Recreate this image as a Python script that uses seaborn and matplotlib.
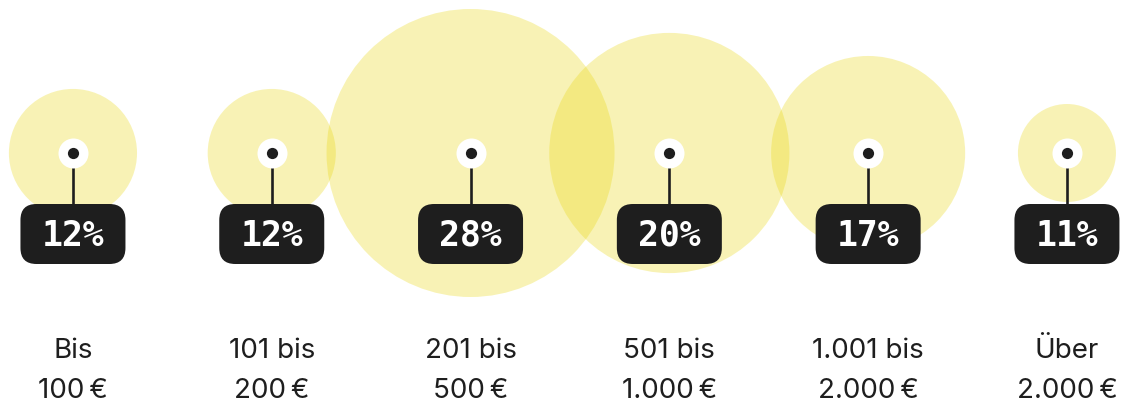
import matplotlib
matplotlib.use("Agg")
import matplotlib.pyplot as plt
import matplotlib.transforms as mtransforms
from matplotlib.patches import FancyBboxPatch
import seaborn as sns
import pandas as pd

# ---- data ----
brackets = ["Bis\n100\u2009€", "101 bis\n200\u2009€", "201 bis\n500\u2009€",
            "501 bis\n1.000\u2009€", "1.001 bis\n2.000\u2009€", "Über\n2.000\u2009€"]
shares = [12, 12, 28, 20, 17, 11]                 # percent labels
bubble_weight = [41, 41, 207, 144, 94, 24]        # relative bubble area

df = pd.DataFrame({"pos": range(len(brackets)), "row": 0,
                   "weight": bubble_weight, "share": shares})

DPI = 100
W, H = 1123, 409
sns.set_theme(style="white")
plt.rcParams["font.family"] = ["Inter", "DejaVu Sans"]

fig = plt.figure(figsize=(W / DPI, H / DPI), dpi=DPI)
ax = fig.add_axes([0, 0, 1, 1])
ax.set_xlim(-0.367, 5.282)
ax.set_ylim(256, -153)   # y in pixel units, 0 = bubble row
ax.axis("off")

ink = "#1e1e1e"

def pts2(r_px):
    return (2 * r_px * 72 / DPI) ** 2

# bubbles
sns.scatterplot(data=df, x="pos", y="row", size="weight",
                sizes=(pts2(49), pts2(144)), color="#E8D70A", alpha=0.3,
                linewidth=0, legend=False, ax=ax, zorder=2)

# stems, white rings and dots
ax.vlines(df["pos"], 0, 51, color=ink, linewidth=1.9, zorder=3)
sns.scatterplot(data=df, x="pos", y="row", s=pts2(15), color="white",
                linewidth=0, legend=False, ax=ax, zorder=4)
sns.scatterplot(data=df, x="pos", y="row", s=pts2(5.6), color=ink,
                linewidth=0, legend=False, ax=ax, zorder=5)

# label boxes
for i, v in zip(df["pos"], df["share"]):
    tr = mtransforms.Affine2D() + mtransforms.ScaledTranslation(i, 81, ax.transData)
    box = FancyBboxPatch((-52.5, -30), 105, 60,
                         boxstyle="round,pad=0,rounding_size=16",
                         facecolor=ink, edgecolor="none", transform=tr, zorder=6)
    ax.add_patch(box)

# percentage labels
for i, v in zip(df["pos"], df["share"]):
    ax.text(i, 83, f"{v}%", ha="center", va="center", color="white",
            fontsize=25, fontweight="bold", family=["DejaVu Sans Mono"], zorder=7)

# category labels
for i, lab in zip(df["pos"], brackets):
    ax.text(i, 218, lab, ha="center", va="center", color=ink,
            fontsize=20, linespacing=1.7, zorder=7)

ax.set_xlabel("")
ax.set_ylabel("")
fig.savefig("out.png", dpi=DPI)
